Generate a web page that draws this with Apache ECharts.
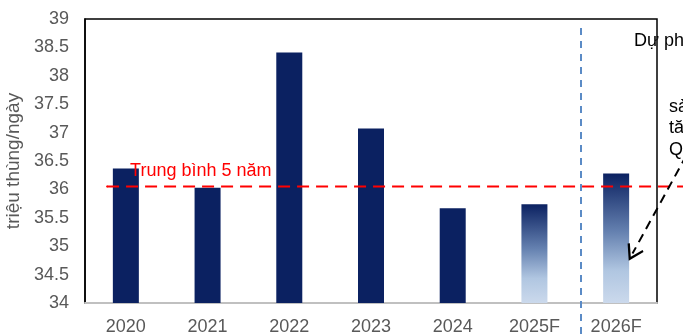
<!DOCTYPE html>
<html>
<head>
<meta charset="utf-8">
<style>
    html, body { margin: 0; padding: 0; background: #fff; }
    #chart { width: 683px; height: 335px; }
</style>
<script src="https://cdn.jsdelivr.net/npm/echarts@6/dist/echarts.min.js"></script>
</head>
<body>
<div id="chart"></div>
<script>
// data
const years = ["2020", "2021", "2022", "2023", "2024", "2025F", "2026F"];
const output = [36.37, 36.03, 38.41, 37.07, 35.67, 35.74, 36.28];
const forecastFrom = 5; // index of first forecast year
const avg5y = 36.05;
const avgLabel = "Trung bình 5 năm";
const yTitle = "triệu thùng/ngày";
const yMin = 34, yMax = 39, yStep = 0.5;

// annotation lines, in data units (x: category slots 0..7, y: same as bars)
const avgLine = [[0.27, avg5y], [7.5, avg5y]];
const dividerLine = [[6.07, 38.84], [6.07, 33.3]];
const arrowLine = [[7.36, 36.6], [6.70, 34.87]];

const W = 683, H = 335;
const G = { left: 85, right: 26, top: 19, bottom: 32 };

// the overlay grid covers the whole canvas so the notes can run past the plot frame;
// its axes are stretched so data units line up with the main grid
const pxX = (W - G.left - G.right) / years.length;
const pxY = (H - G.top - G.bottom) / (yMax - yMin);
const ovX = { min: -G.left / pxX, max: years.length + G.right / pxX };
const ovY = { min: yMin - G.bottom / pxY, max: yMax + G.top / pxY };

const navy = "#0b2161";
const gradient = new echarts.graphic.LinearGradient(0, 0, 0, 1, [
    { offset: 0, color: "#0b2161" },
    { offset: 0.45, color: "#6581b0" },
    { offset: 0.75, color: "#b0c6e1" },
    { offset: 1, color: "#cbd9ec" }
]);
const textColor = "#595959";
const font = "Liberation Sans, Arial, sans-serif";

// open arrow head, tip at top
const chevron = "path://M0,0 L7,10 L5.6,11 L0,3 L-5.6,11 L-7,10 Z";

const chart = echarts.init(document.getElementById("chart"), null, { renderer: "canvas" });

function annot(data, color, dash) {
    return {
        type: "line",
        xAxisIndex: 1,
        yAxisIndex: 1,
        data: data,
        silent: true,
        symbol: "none",
        lineStyle: { color: color, width: 2, type: dash },
        z: 5
    };
}

const option = {
    animation: false,
    textStyle: { fontFamily: font },
    grid: [
        Object.assign({
            show: true, borderColor: "#000", borderWidth: 1.5, backgroundColor: "transparent",
            outerBoundsMode: "none", containLabel: false
        }, G),
        { left: 0, right: 0, top: 0, bottom: 0, outerBoundsMode: "none" }
    ],
    xAxis: [
        {
            type: "category",
            data: years,
            axisLine: { lineStyle: { color: "#c0c0c0", width: 2 } },
            axisTick: { show: false },
            axisLabel: { color: textColor, fontSize: 18, margin: 15, fontFamily: font }
        },
        { gridIndex: 1, type: "value", min: ovX.min, max: ovX.max, show: false }
    ],
    yAxis: [
        {
            type: "value",
            min: yMin, max: yMax, interval: yStep,
            splitLine: { show: false },
            axisLine: { show: true, lineStyle: { color: "#000", width: 1.5 } },
            axisTick: { show: false },
            axisLabel: { color: textColor, fontSize: 18, margin: 16, fontFamily: font },
            name: yTitle,
            nameLocation: "middle",
            nameRotate: 90,
            nameGap: 62,
            nameTextStyle: { color: textColor, fontSize: 19, fontFamily: font }
        },
        { gridIndex: 1, type: "value", min: ovY.min, max: ovY.max, show: false }
    ],
    series: [
        {
            type: "bar",
            barWidth: 26,
            data: output.map((v, i) => ({
                value: v,
                itemStyle: { color: i >= forecastFrom ? gradient : navy }
            }))
        },
        Object.assign(annot(avgLine.map((p, i) => i === 0 ? {
            value: p,
            symbol: "circle", symbolSize: 2,
            itemStyle: { color: "#ff0000" },
            label: { show: true, position: [24, -24], formatter: avgLabel,
                     color: "#ff0000", fontSize: 18, fontFamily: font }
        } : p), "#ff0000", [12, 7]), { showSymbol: true }),
        annot(dividerLine, "#5b8bc6", [7, 6]),
        Object.assign(annot(arrowLine.map((p, i) => i === 1 ? {
            value: p, symbol: chevron, symbolSize: [18, 16], symbolRotate: 152,
            itemStyle: { color: "#000" }
        } : p), "#000", [9, 6]), { showSymbol: true })
    ],
    graphic: [
        { type: "text", left: 634, top: 32, z: 100,
          style: { text: "Dự phóng", fill: "#000", font: "18px Liberation Sans, Arial, sans-serif" } },
        { type: "text", left: 669, top: 96, z: 100,
          style: { text: "sản lượng\ntăng\nQ", fill: "#000", lineHeight: 21.5,
                   font: "18px Liberation Sans, Arial, sans-serif" } }
    ]
};

chart.setOption(option);
</script>
</body>
</html>
